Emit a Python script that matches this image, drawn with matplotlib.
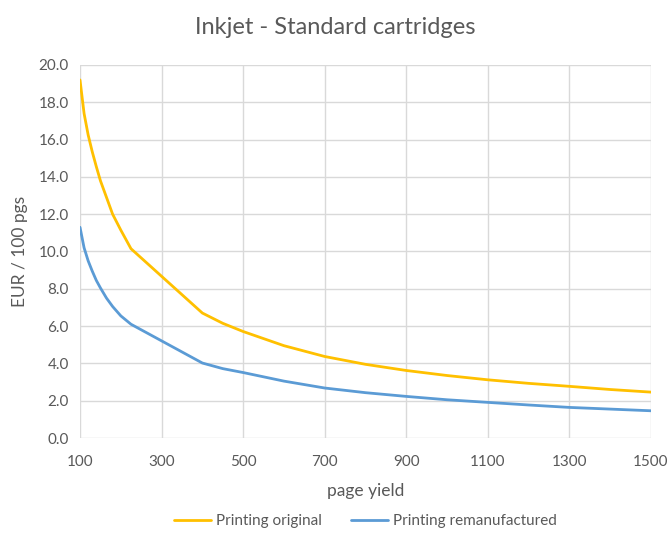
import matplotlib
matplotlib.use("Agg")
import matplotlib.pyplot as plt
from matplotlib.ticker import FormatStrFormatter

# page yield (pages per cartridge)
page_yield = [100, 110, 120, 130, 140, 150, 165, 180, 200, 225, 400, 450, 500,
              600, 700, 800, 900, 1000, 1100, 1200, 1300, 1400, 1500]
# cost in EUR per 100 pages
original = [19.2, 17.4, 16.25, 15.35, 14.55, 13.8, 12.9, 12.0, 11.15, 10.15,
            6.70, 6.15, 5.71, 4.95, 4.37, 3.95, 3.62, 3.35, 3.12, 2.93, 2.77,
            2.60, 2.46]
remanufactured = [11.3, 10.2, 9.5, 8.95, 8.45, 8.05, 7.5, 7.05, 6.55, 6.1,
                  4.02, 3.72, 3.51, 3.05, 2.68, 2.43, 2.23, 2.05, 1.91, 1.77,
                  1.64, 1.55, 1.46]

x_ticks = [100, 300, 500, 700, 900, 1100, 1300, 1500]
y_ticks = [0, 2, 4, 6, 8, 10, 12, 14, 16, 18, 20]

plt.rcParams['font.family'] = ['Lato', 'DejaVu Sans']
text_c = '#595959'
grid_c = '#d9d9d9'

fig = plt.figure(figsize=(6.70, 5.33), dpi=100)
ax = fig.add_axes([80 / 670, 95 / 533, 571 / 670, 373 / 533])

ax.plot(page_yield, original, color='#FFC000', lw=2.0, label='Printing original',
        solid_joinstyle='round', solid_capstyle='round', zorder=3)
ax.plot(page_yield, remanufactured, color='#5B9BD5', lw=2.0,
        label='Printing remanufactured', solid_joinstyle='round',
        solid_capstyle='round', zorder=3)

ax.set_xlim(100, 1500)
ax.set_ylim(0, 20)
ax.set_xticks(x_ticks)
ax.set_yticks(y_ticks)
ax.yaxis.set_major_formatter(FormatStrFormatter('%.1f'))
ax.grid(True, color=grid_c, lw=1.0)
ax.set_axisbelow(True)
for s in ax.spines.values():
    s.set_visible(False)
ax.tick_params(axis='both', length=0, colors=text_c, labelsize=11)
ax.tick_params(axis='x', pad=12)
ax.tick_params(axis='y', pad=8)

ax.set_xlabel('page yield', color=text_c, fontsize=12.5, labelpad=10)
ax.set_ylabel('EUR / 100 pgs', color=text_c, fontsize=12.5, labelpad=8)
fig.text(0.5, 1 - 27 / 533, 'Inkjet - Standard cartridges', color=text_c,
         fontsize=17, ha='center', va='center')

leg = ax.legend(loc='center', bbox_to_anchor=(0.5, -(521 - 438) / 373), ncol=2,
                frameon=False, fontsize=11, handlelength=2.4, columnspacing=1.9,
                handletextpad=0.35)
for t in leg.get_texts():
    t.set_color(text_c)

fig.savefig('out.png', dpi=100)
